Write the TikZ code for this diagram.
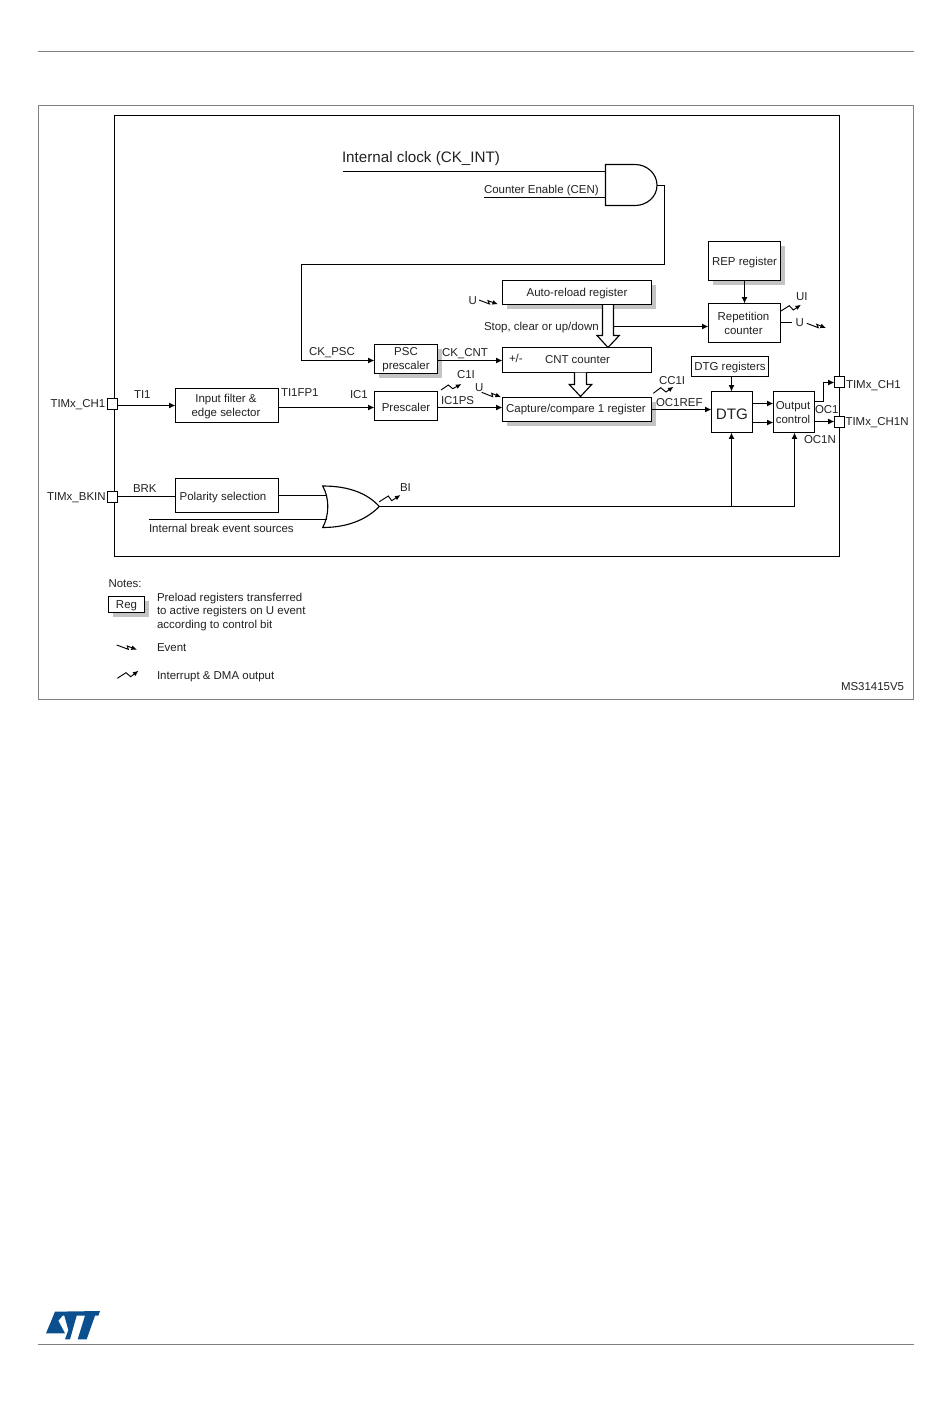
\documentclass[tikz,border=0pt]{standalone}
\usepackage{fontspec}
\setmainfont{Liberation Sans}
\usetikzlibrary{arrows.meta,calc}
\definecolor{ink}{HTML}{222222}
\definecolor{rulec}{HTML}{808080}
\definecolor{shad}{HTML}{C4C4C4}
\definecolor{stblue}{HTML}{0B4F8F}
\newcommand{\bx}[7][]{%
  \pgfmathsetmacro\cxx{(#3+#5)/2}\pgfmathsetmacro\cyy{(#4+#6)/2}%
  \pgfmathsetmacro\ww{(#5-#3)*.75}\pgfmathsetmacro\hh{(#6-#4)*.75}%
  \node[boxn,minimum width=\ww pt,minimum height=\hh pt] (#2) at (\cxx,\cyy) {};%
  \node[boxt,yshift=-.75pt,#1] (#2-t) at (#2.center) {#7};}
\newcommand{\shd}[4]{\fill[shad] (#1+4,#2+4) rectangle (#3+4,#4+4);}
\newcommand{\lab}[5][]{\node[labn,#1] (#2) at (#3,#4+4) {#5};}
\newcommand{\evt}[8]{\draw[sig] (#1,#2) -- (#3,#4) -- (#5,#6) -- (#7,#8);}
\tikzset{
  boxn/.style={draw=black,fill=white,line width=.85pt,inner sep=0pt,outer sep=0pt},
  boxt/.style={inner sep=0pt,outer sep=0pt,align=center,text=ink,font=\fontsize{8.6}{10.5}\selectfont},
  labn/.style={anchor=base west,inner sep=0pt,outer sep=0pt,text=ink,font=\fontsize{8.6}{10.3}\selectfont},
  big/.style={font=\fontsize{11.4}{13}\selectfont},
  wire/.style={draw=black,line width=.85pt},
  arr/.style={wire,-{Latex[length=4.8pt,width=4.4pt]}},
  sig/.style={draw=black,line width=.7pt,-{Latex[length=4.2pt,width=3.6pt]}},
  frameline/.style={draw=rulec,line width=.9pt},
  hollow/.style={draw=black,fill=white,line width=.85pt,line join=miter},
}
\begin{document}
\begin{tikzpicture}[x=.75pt,y=-.75pt]
\useasboundingbox (0,0) rectangle (950,1420);
\fill[white] (0,0) rectangle (950,1420);
% page furniture
\draw[frameline] (38,51.5) -- (914,51.5);
\draw[frameline] (38,1344.5) -- (914,1344.5);
\draw[frameline] (38.5,105.5) rectangle (913.5,699.5);
\draw[wire] (114.5,115.5) rectangle (839.5,556.5);
% logo
\begin{scope}[shift={(30,1300)},x=.25pt,y=-.25pt]
\fill[stblue] (75,35) -- (210,33) -- (205,47) -- (195,47) -- (170,118) -- (143,118) -- (165,47) -- (140,47) -- (120,118) -- (105,118) -- (115,90) -- (103,47) -- (98,47) -- (85,62) -- (105,100) -- (48,100) -- cycle;
\end{scope}
% shadows
\shd{502.5}{280.5}{651.5}{304.5}
\shd{502.5}{397.5}{651.5}{421.5}
\shd{374.5}{344.5}{437.5}{373.5}
\shd{708.5}{241.5}{780.5}{280.5}
\shd{108.5}{596.5}{144.5}{612.5}
% boxes
\bx{arb}{502.5}{280.5}{651.5}{304.5}{Auto-reload register}
\bx{cnt}{502.5}{347.5}{651.5}{372.5}{}
\bx[xshift=-.75pt,yshift=.75pt]{cap}{502.5}{397.5}{651.5}{421.5}{Capture/compare 1 register}
\bx{psc}{374.5}{344.5}{437.5}{373.5}{PSC\\prescaler}
\bx{pre}{374.5}{391.5}{437.5}{420.5}{Prescaler}
\bx[xshift=-.75pt]{tif}{175.5}{388.5}{278.5}{422.5}{Input filter \&\\edge selector}
\bx[xshift=-3pt,yshift=-.75pt]{pol}{175.5}{478.5}{278.5}{512.5}{Polarity selection}
\bx[yshift=-.75pt]{rep}{708.5}{241.5}{780.5}{280.5}{REP register}
\bx[xshift=-.75pt,yshift=.75pt]{rcn}{708.5}{303.5}{780.5}{342.5}{Repetition\\counter}
\bx{dtr}{691.5}{356.5}{768.5}{376.5}{DTG registers}
\bx[font=\fontsize{11.4}{13}\selectfont,yshift=-.75pt]{dtg}{711.5}{391.5}{752.5}{432.5}{DTG}
\bx[xshift=-.75pt]{out}{773.5}{391.5}{814.5}{432.5}{Output\\control}
\bx{pch}{107.5}{398.5}{117.5}{409.5}{}
\bx{pbk}{107.5}{491.5}{117.5}{502.5}{}
\bx{pc1}{834.5}{376.5}{844.5}{387.5}{}
\bx{pc2}{834.5}{416.5}{844.5}{427.5}{}
\bx{reg}{108.5}{596.5}{144.5}{612.5}{Reg}
% gates
\draw[wire,fill=white] (605.5,164.5) -- (635,164.5) .. controls (647.1,164.5) and (657,173.8) .. (657,185.2) .. controls (657,196.7) and (647.1,205.5) .. (635,205.5) -- (605.5,205.5) -- cycle;
\coordinate (andout) at (657,185.5);
\coordinate (andin1) at (605.5,171.5);
\coordinate (andin2) at (605.5,197.5);
\draw[wire,fill=white,line join=miter] (322.7,486) .. controls (350,486) and (368,494) .. (379.3,506.5) .. controls (368,518) and (350,527.5) .. (322.7,527.5) .. controls (329.5,515) and (329.5,498) .. (322.7,486) -- cycle;
\coordinate (orout) at (379.3,506.5);
\coordinate (orin1) at (327,495.5);
\coordinate (orin2) at (327,519.5);
\coordinate (clk) at (342.5,171.5);
\coordinate (cen) at (484,197.5);
\coordinate (brkint) at (148.5,519.5);
% connectors
\draw[wire] (clk) -- (andin1);
\draw[wire] (cen) -- (andin2);
\draw[arr] (andout) -- (664.5,185.5) -- (664.5,264.5) -- (301.5,264.5) -- (301.5,360.5) -- (psc.west |- 0,360.5);
\draw[arr] (psc.east |- 0,360.5) -- (cnt.west |- 0,360.5);
\draw[arr] (pch.east |- 0,405.5) -- (tif.west |- 0,405.5);
\draw[arr] (tif.east |- 0,407.5) -- (pre.west |- 0,407.5);
\draw[arr] (pre.east |- 0,407.5) -- (cap.west |- 0,407.5);
\draw[arr] (cap.east |- 0,409.5) -- (dtg.west |- 0,409.5);
\draw[arr] (dtg.east |- 0,403.5) -- (out.west |- 0,403.5);
\draw[arr] (dtg.east |- 0,422.5) -- (out.west |- 0,422.5);
\draw[arr] (out.east |- 0,401.5) -- (823.5,401.5) -- (823.5,382.5) -- (pc1.west |- 0,382.5);
\draw[arr] (out.east |- 0,421.5) -- (pc2.west |- 0,421.5);
\draw[arr] (dtr.south -| 731.5,0) -- (dtg.north -| 731.5,0);
\draw[arr] (rep.south -| 744.5,0) -- (rcn.north -| 744.5,0);
\draw[arr] (613.5,326.5) -- (rcn.west |- 0,326.5);
\draw[wire] (pbk.east |- 0,496.5) -- (pol.west |- 0,496.5);
\draw[wire] (pol.east |- 0,495.5) -- (orin1);
\draw[wire] (brkint) -- (orin2);
\draw[arr] (orout) -- (794.5,506.5) -- (out.south -| 794.5,0);
\draw[arr] (731.5,506.5) -- (dtg.south -| 731.5,0);
\draw[wire] (rcn.east |- 0,322.5) -- (791.5,322.5);
% hollow bus arrows
\draw[hollow] (602.5,305) -- (602.5,335.5) -- (597,335.5) -- (608,347.5) -- (619.3,335.5) -- (613.5,335.5) -- (613.5,305);
\draw[hollow] (574.5,372.5) -- (574.5,384.5) -- (569.3,384.5) -- (580.5,396.5) -- (591.7,384.5) -- (586.5,384.5) -- (586.5,372.5);
% events
\evt{479}{300}{489.5}{304}{488}{300.7}{498}{304.3}
\evt{481.7}{392.3}{492.7}{396.7}{491.7}{393.3}{501}{397.2}
\evt{806.7}{323.3}{818.3}{327.7}{816.7}{324.3}{826}{328}
\evt{116.7}{645}{128.3}{649.3}{127.3}{646}{137}{649.7}
% interrupts
\evt{441}{390}{448.3}{385}{452.7}{388.7}{461.5}{384}
\evt{653.3}{393.3}{660.7}{387.7}{666}{392}{673.5}{386.7}
\evt{781}{311}{789.3}{305.7}{793.3}{310}{801}{304.7}
\evt{379.3}{501.7}{388.3}{496}{391.7}{500.7}{400.5}{495}
\evt{117.3}{678.3}{126}{672.7}{130.7}{676.7}{138.5}{670.7}
% labels
\lab[big]{l1}{342}{158}{Internal clock (CK\_INT)}
\lab{l2}{484}{189}{Counter Enable (CEN)}
\lab{l3}{468.5}{300}{U}
\lab{l4}{484}{326}{Stop, clear or up/down}
\lab{l5}{309}{351}{CK\_PSC}
\lab{l6}{442}{352}{CK\_CNT}
\lab{l7}{509}{358.5}{+/-}
\lab{l8}{545}{359.5}{CNT counter}
\lab{l9}{457}{374}{C1I}
\lab{l10}{475}{387}{U}
\lab{l11}{441}{400}{IC1PS}
\lab{l12}{659}{380}{CC1I}
\lab{l13}{656}{402}{OC1REF}
\lab{l14}{134}{394}{TI1}
\lab{l15}{281}{392}{TI1FP1}
\lab{l16}{350}{394}{IC1}
\lab{l17}{133}{488}{BRK}
\lab{l18}{400}{487}{BI}
\lab{l19}{149}{528}{Internal break event sources}
\lab{l20}{50.5}{403}{TIMx\_CH1}
\lab{l21}{47}{496}{TIMx\_BKIN}
\lab{l22}{846}{384}{TIMx\_CH1}
\lab{l23}{845.5}{421}{TIMx\_CH1N}
\lab{l24}{815}{409}{OC1}
\lab{l25}{804}{439}{OC1N}
\lab{l26}{796}{296}{UI}
\lab{l27}{795.5}{322}{U}
\lab{l28}{108.5}{583}{Notes:}
\lab{l29}{157}{597}{Preload registers transferred}
\lab{l30}{157}{610.5}{to active registers on U event}
\lab{l31}{157}{624}{according to control bit}
\lab{l32}{157}{647}{Event}
\lab{l33}{157}{675}{Interrupt \& DMA output}
\lab{l34}{841}{686}{MS31415V5}
\end{tikzpicture}
\end{document}
